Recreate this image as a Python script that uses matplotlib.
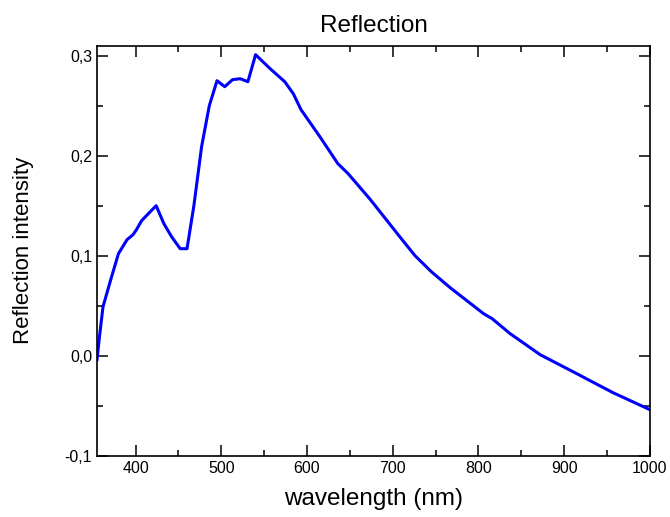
import matplotlib.pyplot as plt
from matplotlib.ticker import MultipleLocator, FuncFormatter

plt.rcParams['font.family'] = ['Liberation Sans', 'DejaVu Sans']

# wavelength (nm) and reflection intensity
wavelength = [355, 358, 362, 371, 380, 390, 397, 401, 407, 416, 424, 433, 442,
              452, 460, 468, 477, 486, 495, 504, 513, 522, 531, 540, 557, 574,
              584, 593, 615, 636, 648, 674, 710, 726, 745, 767, 806, 816, 837,
              872, 917, 928, 957, 1000]
intensity = [-0.004, 0.02, 0.049, 0.076, 0.102, 0.116, 0.121, 0.126, 0.135,
             0.143, 0.150, 0.132, 0.119, 0.107, 0.107, 0.150, 0.209, 0.250,
             0.275, 0.269, 0.276, 0.277, 0.274, 0.301, 0.287, 0.274, 0.262,
             0.246, 0.219, 0.192, 0.182, 0.156, 0.117, 0.100, 0.084, 0.068,
             0.042, 0.037, 0.022, 0.001, -0.019, -0.024, -0.037, -0.054]

fig = plt.figure(figsize=(6.7, 5.17), dpi=100)
ax = fig.add_axes([0.1448, 0.1186, 0.8252, 0.793])

ax.plot(wavelength, intensity, color='#0000ff', linewidth=2.2)

ax.set_xlim(355, 1000)
ax.set_ylim(-0.1, 0.31)
ax.xaxis.set_major_locator(MultipleLocator(100))
ax.xaxis.set_minor_locator(MultipleLocator(50))
ax.yaxis.set_major_locator(MultipleLocator(0.1))
ax.yaxis.set_minor_locator(MultipleLocator(0.05))
ax.yaxis.set_major_formatter(FuncFormatter(lambda v, p: ('%.1f' % v).replace('.', ',').replace('-0,0', '0,0')))

ax.tick_params(which='both', direction='in', top=True, right=True,
               width=1.1, labelsize=11.5)
ax.tick_params(which='major', length=8)
ax.tick_params(which='minor', length=4.5)
for s in ax.spines.values():
    s.set_linewidth(1.2)

ax.set_title('Reflection', fontsize=17.5, pad=10)
ax.set_xlabel('wavelength (nm)', fontsize=17.5, labelpad=9)
ax.set_ylabel('Reflection intensity', fontsize=16, labelpad=22)

fig.savefig('out.png', dpi=100)
